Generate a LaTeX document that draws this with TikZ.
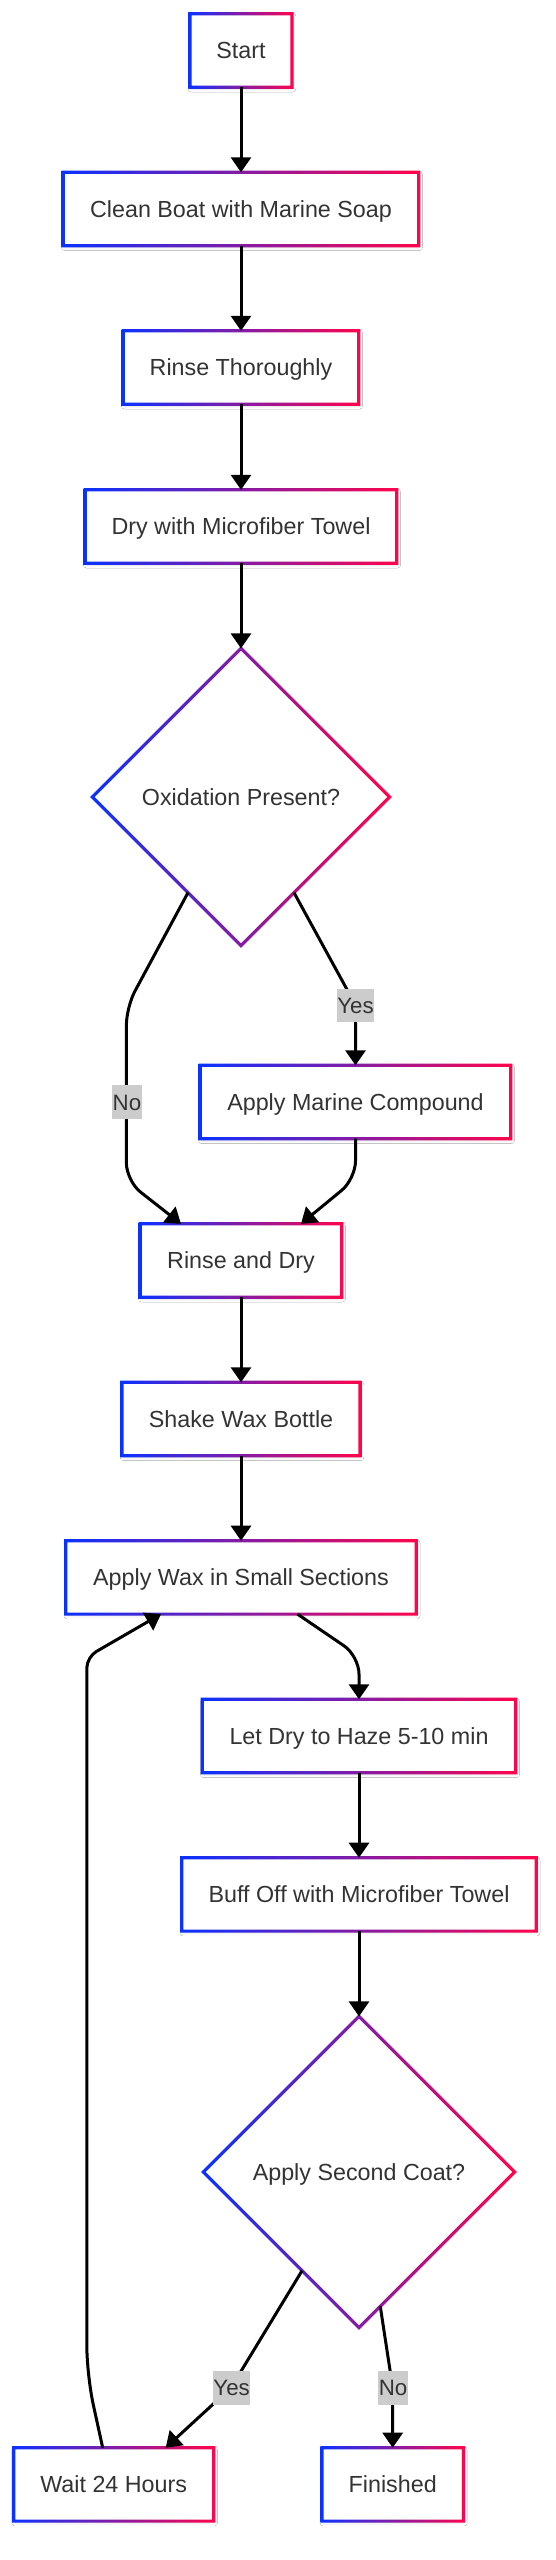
\documentclass[tikz,border=0pt]{standalone}
\usepackage{fontspec}
\setmainfont{Liberation Sans}
\usetikzlibrary{shapes.geometric,arrows.meta,shadows.blur}
\definecolor{cB}{RGB}{10,50,255}
\definecolor{cR}{RGB}{255,5,75}
\definecolor{txt}{RGB}{51,51,51}
\definecolor{lbl}{RGB}{204,204,204}
\newcommand\gring[1]{\shade[left color=cB,right color=cR,even odd rule]
  ([xshift=-1.6pt,yshift=-1.6pt]#1.south west) rectangle ([xshift=1.6pt,yshift=1.6pt]#1.north east)
  ([xshift=1.6pt,yshift=1.6pt]#1.south west) rectangle ([xshift=-1.6pt,yshift=-1.6pt]#1.north east);}
\newcommand\gdia[1]{\shade[left color=cB,right color=cR,even odd rule]
  ([xshift=-2.2pt]#1.west) -- ([yshift=2.2pt]#1.north) -- ([xshift=2.2pt]#1.east) -- ([yshift=-2.2pt]#1.south) -- cycle
  ([xshift=2.2pt]#1.west) -- ([yshift=-2.2pt]#1.north) -- ([xshift=-2.2pt]#1.east) -- ([yshift=2.2pt]#1.south) -- cycle;}
\tikzset{
  nfont/.style={font=\fontsize{23.3}{28}\selectfont, text=txt, text height=16.7pt, text depth=0pt},
  box/.style={rectangle, fill=white, minimum height=73pt, inner sep=0pt, nfont,
    blur shadow={shadow xshift=1pt, shadow yshift=-2pt, shadow blur radius=3pt, shadow opacity=12}},
  dia/.style={diamond, aspect=1, fill=white, inner sep=0pt, nfont},
  elbl/.style={rectangle, fill=lbl, text=txt, font=\fontsize{22.3}{27}\selectfont,
    text height=16pt, text depth=0pt, inner xsep=0.3pt, inner ysep=8.8pt},
  conn/.style={line width=3pt, draw=black, rounded corners=18pt, -{Triangle[length=15pt,width=20pt]}},
}
\begin{document}
\begin{tikzpicture}[x=1pt,y=-1pt]
\fill[white] (0,0) rectangle (555,2560);
\useasboundingbox (0,0) rectangle (555,2560);

\node[box, minimum width=101.5pt] (st) at (241,50.5) {Start};
\node[box, minimum width=355pt] (cb) at (241,209) {Clean Boat with Marine Soap};
\node[box, minimum width=235pt] (rt) at (241,367.5) {Rinse Thoroughly};
\node[box, minimum width=311pt] (dm) at (241,526.5) {Dry with Microfiber Towel};
\node[dia, minimum width=296.8pt, minimum height=296.8pt] (ox) at (241,797) {Oxidation Present?};
\node[box, minimum width=310pt] (am) at (355.5,1102) {Apply Marine Compound};
\node[box, minimum width=201pt] (rd) at (241,1260.5) {Rinse and Dry};
\node[box, minimum width=237.5pt] (sw) at (241,1419) {Shake Wax Bottle};
\node[box, minimum width=350pt] (aw) at (241,1577.4) {Apply Wax in Small Sections};
\node[box, minimum width=313pt] (ld) at (359,1736) {Let Dry to Haze 5-10 min};
\node[box, minimum width=354pt] (bo) at (359,1894.4) {Buff Off with Microfiber Towel};
\node[dia, minimum width=310.8pt, minimum height=310.8pt] (sc) at (359,2172) {Apply Second Coat?};
\node[box, minimum width=199.6pt] (wt) at (113.7,2484.4) {Wait 24 Hours};
\node[box, minimum width=141pt] (fin) at (392.7,2484.4) {Finished};

\foreach \n in {st,cb,rt,dm,am,rd,sw,aw,ld,bo,wt,fin} {\gring{\n}}
\gdia{ox}
\gdia{sc}

\draw[conn] (st.south) -- (cb.north);
\draw[conn] (cb.south) -- (rt.north);
\draw[conn] (rt.south) -- (dm.north);
\draw[conn] (dm.south) -- (ox.north);
\draw[conn] (ox.299) -- (355.5,1005) -- (am.north);
\draw[conn] (ox.241) -- (126.4,1007) -- (126.4,1181) -- ([xshift=-60pt]rd.north);
\draw[conn] (am.south) -- (355.5,1179) -- ([xshift=60pt]rd.north);
\draw[conn] (rd.south) -- (sw.north);
\draw[conn] (sw.south) -- (aw.north);
\draw[conn] ([xshift=56.5pt]aw.south) -- (359,1656) -- (ld.north);
\draw[conn] (ld.south) -- (bo.north);
\draw[conn] (bo.south) -- (sc.north);
\draw[conn] (sc.240) -- (231,2387.7) -- ([xshift=52pt]wt.north);
\draw[conn] (sc.279) -- (392.7,2387.7) -- (fin.north);
\draw[conn, rounded corners=30pt] ([xshift=-11pt]wt.north) -- (86.8,2375) [rounded corners=11pt] -- (86.8,1657) -- ([xshift=-80pt]aw.south);

\node[elbl] (lyes1) at (355.5,1005.5) {Yes};
\node[elbl] (lno1) at (127,1102) {No};
\node[elbl] (lyes2) at (231.6,2387.7) {Yes};
\node[elbl] (lno2) at (393,2387.7) {No};
\end{tikzpicture}
\end{document}
